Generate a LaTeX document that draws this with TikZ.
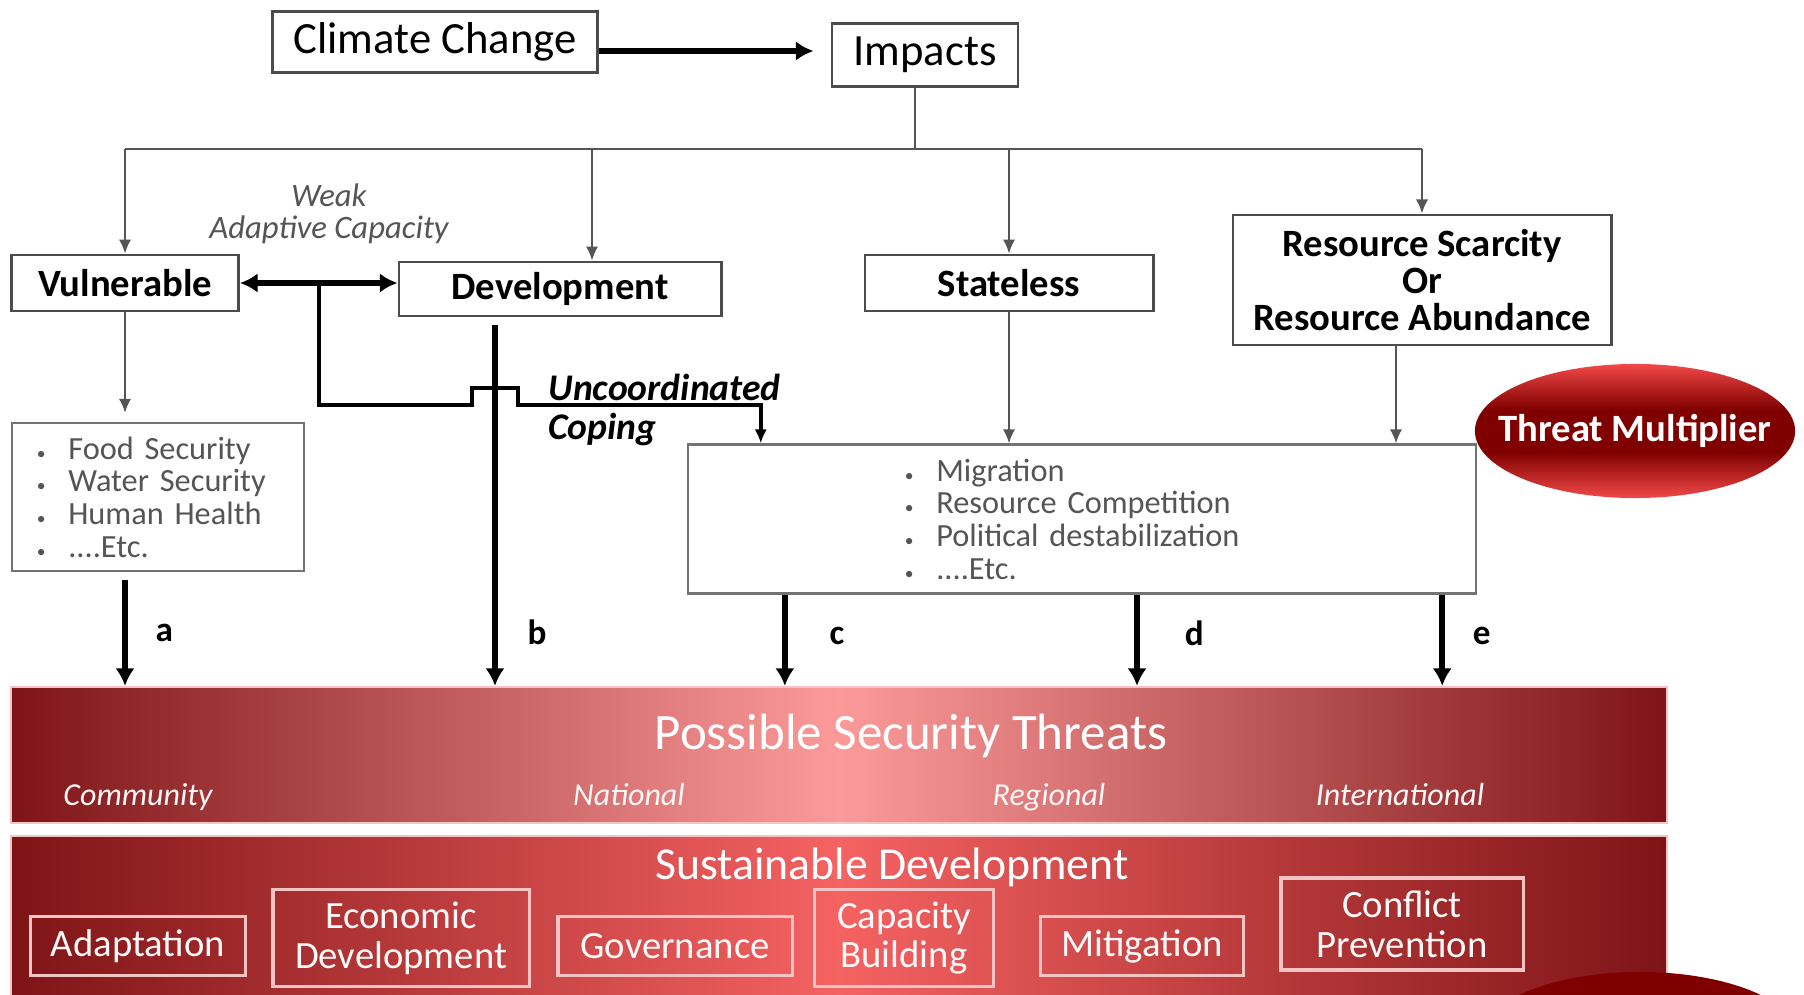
\documentclass[tikz,border=0pt]{standalone}
\usepackage{fontspec}
\setmainfont{Carlito}
\usepackage{color}
\definecolor{mydarkred}{RGB}{126,20,22}
\definecolor{mypink}{RGB}{252,154,154}
\definecolor{mycoral}{RGB}{245,98,98}
\definecolor{mymaroon}{RGB}{128,0,0}
\definecolor{mybright}{RGB}{242,72,72}
\definecolor{mygray}{RGB}{85,85,85}
\definecolor{myedge}{RGB}{244,196,196}
\usetikzlibrary{arrows.meta,positioning,shapes.geometric,calc}
\pgfdeclareverticalshading{threatshade}{100bp}{color(0bp)=(mybright); color(25bp)=(mybright); color(42bp)=(mymaroon); color(58bp)=(mymaroon); color(75bp)=(mybright); color(100bp)=(mybright)}
\newcommand{\listdot}{{\tiny\textbullet}\hspace{0.7em}}
\tikzstyle{box}=[draw=black!70,line width=0.8pt,fill=white,inner sep=0pt]
\tikzstyle{headbox}=[box,font=\fontsize{12.7}{15}\selectfont]
\tikzstyle{stage}=[box,align=center,font=\bfseries\fontsize{11}{10.5}\selectfont]
\tikzstyle{listbox}=[box,draw=black!55,line width=0.6pt,text=mygray,align=left,font=\fontsize{9.2}{9.3}\selectfont]
\tikzstyle{band}=[draw=myedge,line width=0.6pt,inner sep=0pt]
\tikzstyle{reach}=[anchor=base,text=white!92!mypink,font=\itshape\fontsize{9.1}{10}\selectfont]
\tikzstyle{action}=[draw=myedge,line width=0.9pt,text=white!90!myedge,align=center,inner sep=0pt,font=\fontsize{11}{11.3}\selectfont]
\tikzstyle{branch}=[draw=mygray,line width=0.6pt,-{Latex[length=4pt,width=3.5pt]}]
\tikzstyle{flow}=[draw=black,line width=1.7pt,-{Latex[length=5pt,width=5.5pt]}]
\tikzstyle{coping}=[draw=black,line width=1.1pt,-{Latex[length=4pt,width=3.5pt]}]
\tikzstyle{letter}=[font=\bfseries\fontsize{10}{10}\selectfont]

\begin{document}
\begin{tikzpicture}[x=0.01cm,y=-0.01cm]
\useasboundingbox (0,0) rectangle (1804,994);
\clip (0,0) rectangle (1804,994);
\fill[white] (0,0) rectangle (1804,994);

% top row
\node [headbox, minimum width=3.25cm, minimum height=0.61cm] (climate) at (435,42) {Climate Change};
\node [headbox, minimum width=1.86cm, minimum height=0.63cm] (impacts) at (925,55) {Impacts};

% second row
\node [stage, minimum width=2.27cm, minimum height=0.56cm] (vuln) at (125,283) {Vulnerable};
\node [stage, minimum width=3.22cm, minimum height=0.54cm] (devel) at (560,289) {Development};
\node [stage, minimum width=2.88cm, minimum height=0.56cm] (stateless) at (1009,283) {Stateless};
\node [stage, minimum width=3.78cm, minimum height=1.30cm] (resource) at (1422,280) {Resource Scarcity\\Or\\Resource Abundance};

\node [text=mygray, align=center, font=\itshape\fontsize{9.3}{9.1}\selectfont] (weak) at (329,214) {Weak\\Adaptive Capacity};

% lists
\node [listbox, minimum height=1.48cm, text width=2.42cm, inner xsep=0.25cm] (needs) at (158,497)
  {\listdot Food Security\\\listdot Water Security\\\listdot Human Health\\\listdot ....Etc.};
\node [listbox, minimum height=1.49cm, text width=3.54cm, inner xsep=2.17cm] (effects) at (1082,519)
  {\listdot Migration\\\listdot Resource Competition\\\listdot Political destabilization\\\listdot ....Etc.};

\shade [shading=threatshade] (1635,431) ellipse [x radius=1.6cm, y radius=0.67cm];
\node [text=white, font=\bfseries\fontsize{11}{11}\selectfont] (threat) at (1635,431) {Threat Multiplier};

% bands
\node [band, minimum width=16.55cm, minimum height=1.36cm, left color=mydarkred, right color=mydarkred, middle color=mypink] (threats) at (839,755) {};
\node [band, minimum width=16.55cm, minimum height=1.64cm, left color=mydarkred, right color=mydarkred, middle color=mycoral] (sustain) at (839,918) {};
\node [text=white, font=\fontsize{14.5}{15}\selectfont] at (911,736) {Possible Security Threats};
\node [text=white, font=\fontsize{13}{14}\selectfont] at (892,867) {Sustainable Development};
\foreach \lv/\cx in {Community/138, National/629, Regional/1049, International/1400}
  \node [reach] at (\cx,805) {\lv};

\foreach \nm/\cx/\cy/\w/\h/\txt in {adapt/138/946/2.15/0.59/Adaptation,
    econ/401/938/2.56/0.97/Economic\\Development,
    gov/675/946/2.34/0.59/Governance,
    cap/904/938/1.79/0.97/Capacity\\Building,
    mitig/1142/946/2.03/0.59/Mitigation,
    conflict/1402/924/2.42/0.92/Conflict\\Prevention}
  \node [action, minimum width=\w cm, minimum height=\h cm] (\nm) at (\cx,\cy) {\txt};

\fill [mymaroon] (1640,1039) ellipse [x radius=1.6cm, y radius=0.67cm];

% connectors
\draw [flow] ([yshift=-0.09cm]climate.east) -- ([xshift=-0.17cm,yshift=-0.09cm]climate.east -| impacts.west);
\draw [draw=mygray, line width=0.6pt] ([xshift=-0.1cm]impacts.south) -- ++(0,61) coordinate (hub);
\draw [draw=mygray, line width=0.6pt] (vuln.north |- hub) -- (resource.north |- hub);
\foreach \t/\s in {vuln/0, devel/0.32, stateless/0, resource/0}
  \draw [branch] ([xshift=\s cm]\t.north |- hub) -- ([xshift=\s cm]\t.north);

\draw [flow, {Latex[length=5pt,width=5.5pt]}-{Latex[length=5pt,width=5.5pt]}] (vuln.east) -- (vuln.east -| devel.west);
\coordinate (split) at ($(vuln.east)!0.5!(vuln.east -| devel.west)$);
\draw [coping] (split) -- ++(0,122) -- ++(153,0) -- ++(0,-17) -- ++(46,0) -- ++(0,17)
  -| ([xshift=0.74cm]effects.north west);
\node [anchor=west, align=left, font=\bfseries\itshape\fontsize{10.7}{11}\selectfont] (uncoord) at (536,410) {Uncoordinated\\Coping};

\draw [branch] (vuln.south) -- ([yshift=0.09cm]vuln.south |- needs.north);
\draw [branch] (stateless.south) -- (stateless.south |- effects.north);
\draw [branch] ([xshift=-0.26cm]resource.south) -- ([xshift=-0.26cm]resource.south |- effects.north);

\draw [flow] ([yshift=-0.08cm]vuln.south |- needs.south) -- (vuln.south |- threats.north) node [letter, pos=0.5, right=0.16cm] {a};
\draw [flow] ([xshift=-0.65cm,yshift=-0.08cm]devel.south) -- ([xshift=-0.65cm]devel.south |- threats.north) node [letter, pos=0.85, right=0.18cm] {b};
\draw [flow] ([xshift=-2.97cm]effects.south) -- ([xshift=-2.97cm]effects.south |- threats.north) node [letter, pos=0.45, right=0.3cm] {c};
\draw [flow] ([xshift=0.55cm]effects.south) -- ([xshift=0.55cm]effects.south |- threats.north) node [letter, pos=0.45, right=0.33cm, anchor=base west, yshift=-0.1cm] {d};
\draw [flow] ([xshift=3.6cm]effects.south) -- ([xshift=3.6cm]effects.south |- threats.north) node [letter, pos=0.45, right=0.16cm] {e};
\end{tikzpicture}
\end{document}
